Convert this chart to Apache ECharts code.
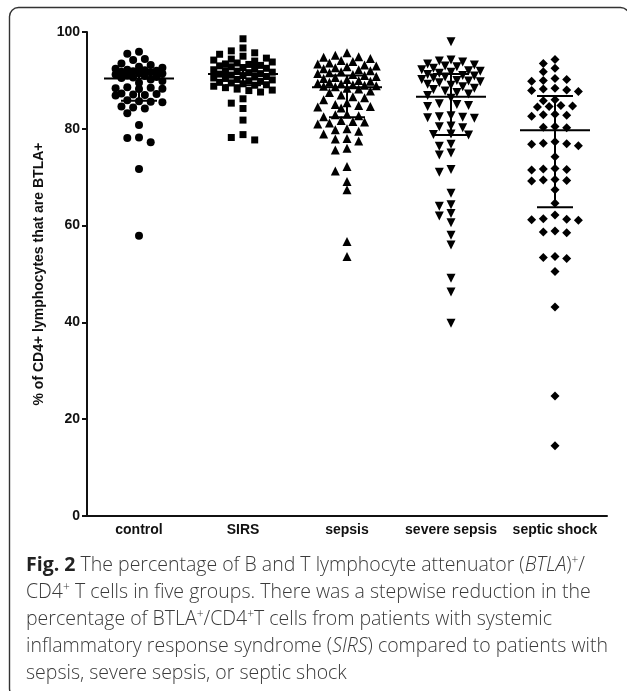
<!DOCTYPE html>
<html><head><meta charset="utf-8">
<script src="https://cdn.jsdelivr.net/npm/echarts@6/dist/echarts.min.js"></script>
<style>html,body{margin:0;padding:0;background:#fff}#c{width:627px;height:691px}</style>
</head><body><div id="c"></div>
<script>
const categories = ['control', 'SIRS', 'sepsis', 'severe sepsis', 'septic shock'];
const controlValues = [95.9, 95.5, 94.4, 94.2, 93.5, 93.2, 92.8, 92.6, 92.4, 92.2, 92.1, 92.0, 91.9, 91.8, 91.7, 91.5, 91.4, 91.2, 91.0, 90.9, 90.7, 90.6, 90.5,
  90.2, 89.9, 89.5, 88.6, 88.5, 88.4, 88.3, 88.2, 87.3, 87.2, 87.1, 87.0, 86.9, 85.9, 85.7, 85.6, 85.5, 84.6, 84.4, 84.2, 83.2, 80.8, 78.2, 78.1, 77.2, 71.7, 57.9];
const sirsValues = [98.6, 96.7, 96.1, 95.7, 95.4, 95.0, 94.6, 94.4, 94.2, 94.0, 93.8, 93.6, 93.4, 93.3, 93.1, 93.0, 92.8, 92.6, 92.5, 92.3, 92.2, 92.0, 91.9, 91.7, 91.6, 91.4, 91.3,
  91.1, 91.0, 90.8, 90.7, 90.5, 90.4, 90.2, 90.1, 89.9, 89.8, 89.6, 89.5, 89.3, 89.1, 89.0, 88.8, 88.5, 88.2, 88.0, 87.9, 87.6, 86.2, 85.3, 84.2, 81.8, 78.8, 78.2, 77.7];
const sepsisValues = [95.7, 95.2, 94.9, 94.8, 94.5, 94.1, 93.9, 93.6, 93.4, 93.2, 93.0, 92.8, 92.6, 92.4, 92.2, 92.0, 91.8, 91.6, 91.4, 91.2, 91.0, 90.8, 90.6, 90.4, 90.2, 90.0, 89.8, 89.6, 89.4, 89.3, 89.1, 89.0, 88.9, 88.8, 88.7,
  88.4, 88.2, 87.8, 87.5, 87.0, 86.6, 86.4, 86.0, 85.4, 85.0, 84.8, 84.6, 84.5, 84.3, 83.0, 82.9, 82.7, 82.5, 81.7, 81.5, 81.4, 81.2, 81.0, 80.0, 79.8, 79.5, 78.9, 78.0, 77.9, 77.5, 76.0, 75.6, 72.2, 71.3, 69.1, 67.4, 56.7, 53.6];
const severeSepsisValues = [98.0, 94.2, 94.0, 93.8, 93.4, 93.2, 93.0, 92.8, 92.5, 92.2, 92.0, 91.9, 91.7, 91.5, 91.2, 91.0, 90.9, 90.7, 90.5, 90.2, 90.0, 89.9, 89.7, 89.5, 89.2, 89.0, 88.7, 88.4, 88.1, 87.8, 87.5, 87.2, 86.9,
  86.3, 85.2, 85.0, 84.8, 84.6, 82.7, 82.5, 82.4, 82.3, 82.2, 80.6, 80.4, 80.2, 78.9, 78.8, 78.7, 76.8, 76.4, 75.0, 74.6, 71.6, 71.0, 66.7, 64.3, 64.0, 62.5, 62.0, 60.6, 58.0, 56.0, 49.1, 46.3, 39.8];
const septicShockValues = [94.3, 93.5, 92.5, 91.8, 90.4, 90.2, 90.0, 89.8, 88.4, 88.2, 88.0, 87.9, 87.7, 86.0, 85.8, 84.8, 84.7, 84.6, 84.5, 83.0, 82.9, 82.8, 82.6, 80.5, 80.3, 80.2,
  77.3, 77.0, 76.9, 76.8, 76.5, 74.2, 71.8, 71.7, 71.6, 71.5, 69.5, 69.4, 69.3, 69.2, 67.4, 64.6, 62.2, 61.4, 61.3, 61.2, 61.1, 58.9, 58.7, 58.5, 53.6, 53.4, 53.2, 50.5, 43.2, 24.8, 14.5];
const medianValues = [90.4, 91.3, 88.6, 86.6, 79.7];
const lowerQuartiles = [85.8, 89.0, 82.4, 78.7, 63.8];
const upperQuartiles = [92.0, 93.2, 91.0, 91.3, 86.8];
const yTicks = [0, 20, 40, 60, 80, 100];

const groups = [controlValues, sirsValues, sepsisValues, severeSepsisValues, septicShockValues];
const symbols = ['circle', 'rect', 'triangle', 'triangle', 'diamond'];
const symbolSizes = [8, 7, 9, 9, 9];
const symbolRotates = [0, 0, 0, 180, 0];
const swarmSlots = [4, 5, 5, 5, 4];

const font = 'Liberation Sans, Arial, sans-serif';
const chart = echarts.init(document.getElementById('c'), null, {renderer: 'canvas'});

const base = {
  animation: false,
  backgroundColor: '#fff',
  grid: {left: 87, right: 20, top: 32, bottom: 175, containLabel: false},
  xAxis: [{
    type: 'category', data: categories, boundaryGap: true,
    axisLine: {onZero: false, lineStyle: {color: '#111', width: 2}},
    axisTick: {alignWithLabel: true, length: 5, lineStyle: {color: '#111', width: 2}},
    axisLabel: {interval: 0, fontFamily: font, fontWeight: 'bold', fontSize: 14, color: '#111', margin: 7},
    splitLine: {show: false}
  }, {
    type: 'value', min: -0.5, max: 4.5, show: false
  }],
  yAxis: [{
    type: 'value', min: yTicks[0], max: yTicks[yTicks.length - 1], interval: yTicks[1] - yTicks[0],
    axisLine: {show: true, onZero: false, lineStyle: {color: '#111', width: 2}},
    axisTick: {show: true, length: 5, lineStyle: {color: '#111', width: 2}},
    axisLabel: {fontFamily: font, fontWeight: 'bold', fontSize: 14, color: '#111', margin: 7},
    splitLine: {show: false},
    name: '% of CD4+ lymphocytes that are BTLA+', nameLocation: 'middle', nameGap: 37, nameRotate: 90,
    nameTextStyle: {fontFamily: font, fontWeight: 'bold', fontSize: 14, color: '#111'}
  }],
  graphic: [{
    type: 'rect', shape: {x: 9.5, y: 7.5, width: 620, height: 690, r: 9},
    style: {fill: 'none', stroke: '#333', lineWidth: 1.4}, silent: true
  }, {
    type: 'text', left: 26, top: 552,
    style: {
      text: '{b|Fig. 2} The percentage of B and T lymphocyte attenuator ({i|BTLA}){sup|+}/\n' +
            'CD4{sup|+} T cells in five groups. There was a stepwise reduction in the\n' +
            'percentage of BTLA{sup|+}/CD4{sup|+}T cells from patients with systemic\n' +
            'inflammatory response syndrome ({i|SIRS}) compared to patients with\n' +
            'sepsis, severe sepsis, or septic shock',
      font: '300 19.5px "Open Sans"', fill: '#3a3a3a', lineHeight: 27,
      rich: {
        b: {fontFamily: 'Open Sans', fontWeight: 'bold', fontSize: 19.5, fill: '#222', lineHeight: 27},
        i: {fontFamily: 'Open Sans', fontWeight: 300, fontStyle: 'italic', fontSize: 19.5, fill: '#3a3a3a', lineHeight: 27},
        sup: {fontFamily: 'Open Sans', fontWeight: 300, fontSize: 12, fill: '#3a3a3a', lineHeight: 12, verticalAlign: 'top', padding: [3, 0, 0, 0]}
      }
    }
  }],
  series: []
};
chart.setOption(base);

const y0 = chart.convertToPixel({yAxisIndex: 0}, 0);
const y1 = chart.convertToPixel({yAxisIndex: 0}, 1);
const pxPerY = y0 - y1;
const pxPerX = chart.convertToPixel({xAxisIndex: 1}, 1) - chart.convertToPixel({xAxisIndex: 1}, 0);

function swarm(vals, d, step, maxSlots) {
  const placed = [];
  const order = [0];
  for (let k = 1; k <= maxSlots; k++) order.push(-k, k);
  return vals.map(v => {
    const y = -v * pxPerY;
    let best = null;
    for (const s of order) {
      const x = s * step;
      let ok = true;
      for (const p of placed) {
        const dx = p.x - x, dy = p.y - y;
        if (dx * dx + dy * dy < d * d) { ok = false; break; }
      }
      if (ok) { best = x; break; }
    }
    if (best === null) {
      let score = -1;
      for (const s of order) {
        const x = s * step;
        let m = Infinity;
        for (const p of placed) { const dx = p.x - x, dy = p.y - y; m = Math.min(m, dx * dx + dy * dy); }
        if (m > score) { score = m; best = x; }
      }
    }
    placed.push({x: best, y});
    return best;
  });
}

const series = groups.map((vals, i) => {
  const offs = swarm(vals, 8, 5.85, swarmSlots[i]);
  return {
    type: 'scatter', xAxisIndex: 1, yAxisIndex: 0, name: categories[i],
    symbol: symbols[i], symbolSize: symbolSizes[i], symbolRotate: symbolRotates[i],
    itemStyle: {color: '#000', opacity: 1},
    data: vals.map((v, j) => [i + offs[j] / pxPerX, v]),
    z: 2
  };
});
series.push({
  type: 'custom', xAxisIndex: 1, yAxisIndex: 0, z: 5,
  data: categories.map((c, i) => [i, medianValues[i], lowerQuartiles[i], upperQuartiles[i]]),
  renderItem(params, api) {
    const pm = api.coord([api.value(0), api.value(1)]);
    const yl = api.coord([api.value(0), api.value(2)])[1];
    const yu = api.coord([api.value(0), api.value(3)])[1];
    const x = pm[0], ym = pm[1];
    const style = {stroke: '#000', lineWidth: 2};
    return {type: 'group', children: [
      {type: 'line', shape: {x1: x - 35, y1: ym, x2: x + 35, y2: ym}, style},
      {type: 'line', shape: {x1: x, y1: yl, x2: x, y2: yu}, style},
      {type: 'line', shape: {x1: x - 18, y1: yl, x2: x + 18, y2: yl}, style},
      {type: 'line', shape: {x1: x - 18, y1: yu, x2: x + 18, y2: yu}, style}
    ]};
  }
});
chart.setOption({series});
</script></body></html>
